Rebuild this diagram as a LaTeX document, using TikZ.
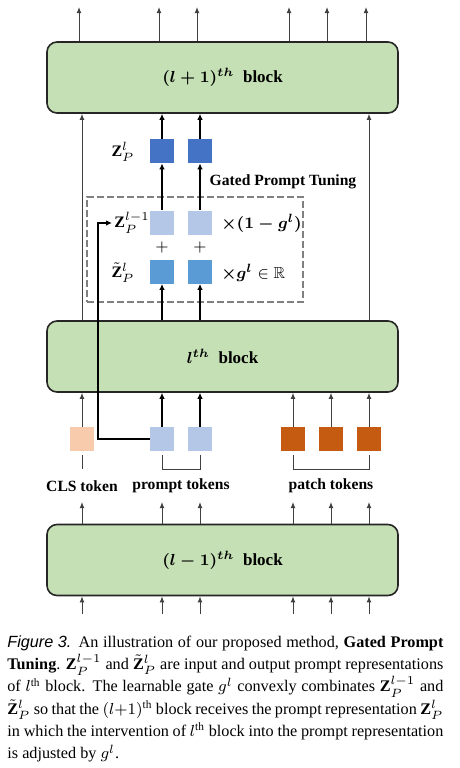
\documentclass[tikz,border=0pt]{standalone}
\usepackage{amsmath,amssymb}
\usepackage{fontspec}
\setmainfont{Liberation Serif}
\newfontfamily\figsans{Liberation Sans}
\usetikzlibrary{arrows.meta,positioning}
\definecolor{blockgreen}{HTML}{C5E0B4}
\definecolor{clspeach}{HTML}{F8CBAD}
\definecolor{promptlight}{HTML}{B4C7E7}
\definecolor{zdark}{HTML}{4472C4}
\definecolor{zmid}{HTML}{5B9BD5}
\definecolor{patchorange}{HTML}{C55A11}
\newcommand{\captionsetup}{\hyphenpenalty=10000 \lineskiplimit=-20pt \lineskip=0pt \spaceskip=.25em plus .3em minus .15em\relax}
\begin{document}
\begin{tikzpicture}[x=0.5pt,y=-0.5pt]
        % Styles
        \tikzstyle{block}=[draw=black!85,line width=0.8pt,fill=blockgreen,rounded corners=5pt,minimum width=175.5pt,minimum height=35.5pt,font=\fontsize{8.5}{10}\selectfont\bfseries]
        \tikzstyle{token}=[minimum size=12pt,inner sep=0pt]
        \tikzstyle{thin arrow}=[draw=black!75,line width=0.5pt,-{Latex[length=3pt,width=2.4pt]}]
        \tikzstyle{thick arrow}=[draw=black,line width=1pt,-{Latex[length=3pt,width=2.8pt]}]
        \tikzstyle{bracket}=[draw=black!75,line width=0.5pt]
        \tikzstyle{label text}=[font=\fontsize{7.8}{9}\selectfont\bfseries]
        \tikzstyle{math label}=[font=\fontsize{8}{9}\selectfont,inner sep=1pt]
        \tikzstyle{gate box}=[draw=black!50,line width=1pt,dash pattern=on 3.5pt off 1.5pt,minimum width=108pt,minimum height=52.5pt]
        \useasboundingbox (0,0) rectangle (460,768);
        %The graphic
        %blocks
        \node[block] (top) at (222.5,77.5) {$\boldsymbol{(l+1)^{th}}$\ \ block};
        \node[block] (mid) at (222.5,356.5) {$\boldsymbol{l^{th}}$\ \ block};
        \node[block] (bot) at (222.5,560) {$\boldsymbol{(l-1)^{th}}$\ \ block};
        \node[gate box] (gate) at (195,249.5) {};
        \node[label text] (gpt) at (283,182) {Gated Prompt Tuning};
        %tokens
        \node[token,fill=clspeach] (cls) at (82,439) {};
        \foreach \n/\x in {p1/162,p2/200}
            \node[token,fill=promptlight] (\n) at (\x,439) {};
        \foreach \n/\x in {a1/293,a2/331,a3/369}
            \node[token,fill=patchorange] (\n) at (\x,439) {};
        \node[label text] (clslab) at (82,486) {CLS token};
        \node[label text] (promptlab) at (181,486) {prompt tokens};
        \node[label text] (patchlab) at (331,486) {patch tokens};
        %gated prompts
        \foreach \i/\x in {1/162,2/200}{
            \node[token,fill=zdark] (zout\i) at (\x,151) {};
            \node[token,fill=promptlight] (zprev\i) at (\x,222.5) {};
            \node[token,fill=zmid] (ztil\i) at (\x,271.5) {};
            \node[math label] (plus\i) at (\x,247.5) {$+$};
            \draw[thick arrow] (zout\i.north) -- (top.south -| zout\i);
            \draw[thick arrow] (zprev\i.north) -- (zout\i.south);
            \draw[thick arrow] (mid.north -| ztil\i) -- (ztil\i.south);
            \draw[thick arrow] (p\i.north) -- (mid.south -| p\i);
        }
        \node[math label] (zoutlab) at (123,152) {$\mathbf{Z}_P^{l}$};
        \node[math label,anchor=west] (zprevlab) at (112,223) {$\mathbf{Z}_P^{l-1}$};
        \node[math label] (ztillab) at (123,273) {$\tilde{\mathbf{Z}}_P^{l}$};
        \node[math label,anchor=west] (gatelab) at (219,223) {$\boldsymbol{\times(1-g^l)}$};
        \node[math label,anchor=west] (realab) at (219,273) {$\boldsymbol{\times g^l}\in\mathbb{R}$};
        %arrows
        \foreach \i/\x in {1/79,2/159,3/197,4/289,5/327,6/366}{
            \coordinate (out\i) at (\x,7);
            \draw[thin arrow] (top.north -| out\i) -- (out\i);
        }
        \draw[thin arrow] (mid.north -| cls) -- (top.south -| cls);
        \draw[thin arrow] (mid.north -| a3) -- (top.south -| a3);
        \foreach \n in {cls,a1,a2,a3}
            \draw[thin arrow] (\n.north) -- (mid.south -| \n);
        \coordinate (labline) at (0,502);
        \coordinate (base) at (0,614);
        \foreach \n in {cls,p1,p2,a1,a2,a3}{
            \draw[thin arrow] (bot.north -| \n) -- (labline -| \n);
            \draw[thin arrow] (base -| \n) -- (bot.south -| \n);
        }
        \coordinate (turn) at (98,223);
        \draw[thick arrow] (p1.west) -| (turn) -- (zprevlab.west);
        %brackets
        \draw[bracket] ([yshift=-2pt]cls.south) -- ++(0,14);
        \draw[bracket] ([yshift=-2pt]p1.south) -- ++(0,14) -| ([yshift=-2pt]p2.south);
        \draw[bracket] ([yshift=-2pt]a1.south) -- ++(0,14) -| ([yshift=-2pt]a3.south);
        %caption
        \node[anchor=north west,inner sep=0pt,text width=218pt,align=justify,font=\fontsize{8.1}{11.15}\selectfont] (caption) at (7,635)
            {\captionsetup{\figsans\itshape Figure 3.} An illustration of our proposed method, \textbf{Gated Prompt}\linebreak
            \textbf{Tuning}. $\mathbf{Z}_P^{l-1}$ and $\tilde{\mathbf{Z}}_P^{l}$ are input and output prompt representations\linebreak
            of $l^{\mathrm{th}}$ block. The learnable gate $g^l$ convexly combinates $\mathbf{Z}_P^{l-1}$ and\linebreak
            $\tilde{\mathbf{Z}}_P^{l}$ so that the $(l{+}1)^{\mathrm{th}}$ block receives the prompt representation $\mathbf{Z}_P^{l}$\linebreak
            in which the intervention of $l^{\mathrm{th}}$ block into the prompt representation\linebreak
            is adjusted by $g^l$.};
\end{tikzpicture}
\end{document}
